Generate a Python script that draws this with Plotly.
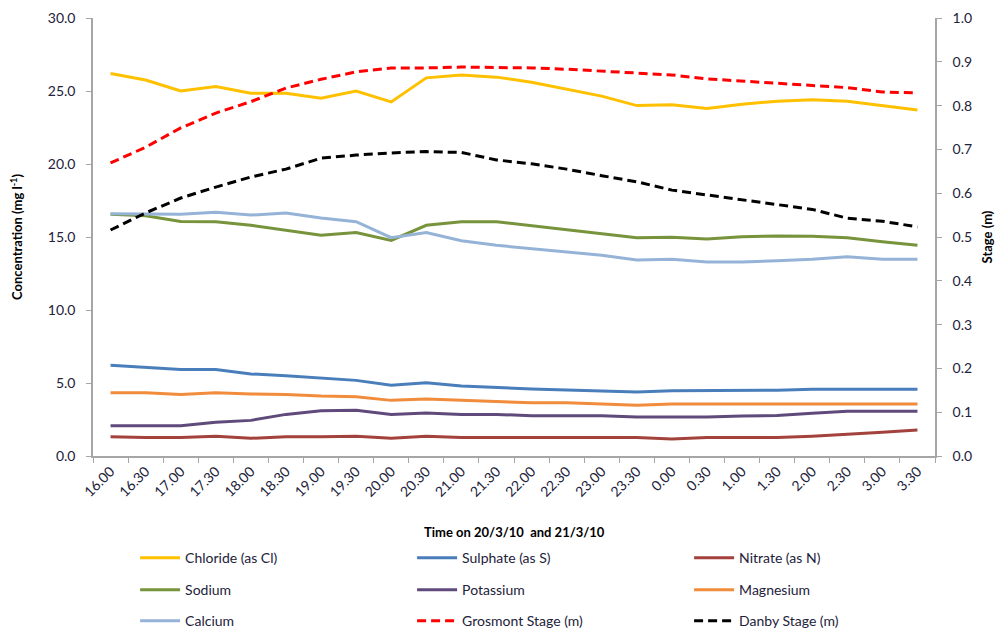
import plotly.graph_objects as go

# Sampling times (half-hourly) across 20/3/10 and 21/3/10
times = ["16.00", "16.30", "17.00", "17.30", "18.00", "18.30", "19.00", "19.30",
         "20.00", "20.30", "21.00", "21.30", "22.00", "22.30", "23.00", "23.30",
         "0.00", "0.30", "1.00", "1.30", "2.00", "2.30", "3.00", "3.30"]

# Concentrations, mg/l
chloride = [26.2, 25.75, 25.0, 25.3, 24.85, 24.85, 24.5, 25.0, 24.25, 25.9, 26.1, 25.95,
            25.6, 25.1, 24.65, 24.0, 24.05, 23.8, 24.1, 24.3, 24.4, 24.3, 24.0, 23.7]
sulphate = [6.21, 6.07, 5.93, 5.93, 5.62, 5.5, 5.32, 5.18, 4.84, 5.02, 4.79, 4.68,
            4.59, 4.52, 4.43, 4.38, 4.47, 4.47, 4.5, 4.5, 4.57, 4.57, 4.57, 4.57]
nitrate = [1.32, 1.26, 1.26, 1.35, 1.21, 1.32, 1.32, 1.35, 1.21, 1.35, 1.26, 1.26,
           1.26, 1.26, 1.26, 1.26, 1.16, 1.26, 1.26, 1.26, 1.35, 1.46, 1.62, 1.78]
sodium = [16.55, 16.46, 16.07, 16.05, 15.8, 15.48, 15.12, 15.3, 14.77, 15.8, 16.05, 16.05,
          15.78, 15.53, 15.27, 14.95, 14.98, 14.86, 15.02, 15.07, 15.05, 14.95, 14.68, 14.43]
potassium = [2.08, 2.08, 2.08, 2.31, 2.44, 2.85, 3.1, 3.13, 2.85, 2.94, 2.85, 2.85,
             2.76, 2.76, 2.76, 2.67, 2.67, 2.67, 2.74, 2.78, 2.92, 3.06, 3.06, 3.06]
magnesium = [4.34, 4.34, 4.22, 4.34, 4.25, 4.22, 4.11, 4.06, 3.81, 3.9, 3.81, 3.72,
             3.65, 3.65, 3.56, 3.47, 3.56, 3.56, 3.56, 3.56, 3.56, 3.56, 3.56, 3.56]
calcium = [16.6, 16.6, 16.55, 16.7, 16.5, 16.65, 16.3, 16.05, 14.95, 15.3, 14.75, 14.43,
           14.2, 14.0, 13.75, 13.42, 13.47, 13.29, 13.29, 13.38, 13.47, 13.65, 13.47, 13.47]

# River stage, m
grosmont = [0.669, 0.705, 0.749, 0.783, 0.809, 0.84, 0.86, 0.877, 0.886, 0.886, 0.888, 0.887,
            0.886, 0.883, 0.879, 0.874, 0.87, 0.861, 0.856, 0.851, 0.845, 0.841, 0.831, 0.829]
danby = [0.516, 0.555, 0.589, 0.614, 0.637, 0.655, 0.68, 0.687, 0.692, 0.695, 0.693, 0.676,
         0.667, 0.655, 0.64, 0.626, 0.607, 0.596, 0.586, 0.575, 0.563, 0.543, 0.536, 0.523]

FONT = "Lato, 'Open Sans', sans-serif"
TXT = "#22223a"
AXIS = "#a6a6a6"

fig = go.Figure()

series = [
    ("Chloride (as Cl)", chloride, "#FFC000", "y", "solid", "legend"),
    ("Sulphate (as S)", sulphate, "#4A7EBB", "y", "solid", "legend"),
    ("Nitrate (as N)", nitrate, "#A3423C", "y", "solid", "legend"),
    ("Sodium", sodium, "#77933C", "y", "solid", "legend2"),
    ("Potassium", potassium, "#604A7B", "y", "solid", "legend2"),
    ("Magnesium", magnesium, "#F08C3C", "y", "solid", "legend2"),
    ("Calcium", calcium, "#95B3D7", "y", "solid", "legend3"),
    ("Grosmont Stage (m)", grosmont, "#FF0000", "y2", "9px,5px", "legend3"),
    ("Danby Stage (m)", danby, "#000000", "y2", "9px,5px", "legend3"),
]
for name, vals, color, axis, dash, leg in series:
    fig.add_trace(go.Scatter(
        x=times, y=vals, name=name, mode="lines", yaxis=axis, legend=leg,
        line=dict(color=color, width=3, dash=dash),
    ))

def legend_row(y):
    return dict(
        orientation="h", x=0.05, xanchor="left", y=y, yanchor="middle",
        entrywidth=222, entrywidthmode="pixels",
        font=dict(family=FONT, size=14, color=TXT),
        bgcolor="rgba(0,0,0,0)", itemwidth=40,
    )

fig.update_layout(
    width=1008, height=631,
    margin=dict(l=93, r=73, t=18, b=175, autoexpand=False),
    paper_bgcolor="white", plot_bgcolor="white",
    font=dict(family=FONT, size=14, color=TXT),
    showlegend=True,
    legend=legend_row(-0.233),
    legend2=legend_row(-0.306),
    legend3=legend_row(-0.377),
    xaxis=dict(
        type="category", tickson="boundaries", ticks="outside", ticklen=5,
        tickcolor=AXIS, showline=True, linecolor=AXIS, linewidth=1.5,
        showgrid=False, tickangle=-45, tickfont=dict(size=14, color=TXT),
        range=[-0.5, len(times) - 0.5],
    ),
    yaxis=dict(
        range=[0, 30], dtick=5, tickformat=".1f", ticks="outside", ticklen=5,
        tickcolor=AXIS, showline=True, linecolor=AXIS, linewidth=1.5,
        showgrid=False, zeroline=False, tickfont=dict(size=14, color=TXT),
        ticklabelstandoff=8,
        title=dict(text="<b>Concentration (mg l<sup>-1</sup>)</b>",
                   font=dict(size=13, color="black"), standoff=22),
    ),
    yaxis2=dict(
        range=[0, 1], dtick=0.1, tickformat=".1f", overlaying="y", side="right",
        ticks="outside", ticklen=5, tickcolor=AXIS, showline=True,
        linecolor=AXIS, linewidth=1.5, showgrid=False, zeroline=False,
        tickfont=dict(size=14, color=TXT), ticklabelstandoff=8,
        title=dict(text="<b>Stage (m)</b>", font=dict(size=13, color="black"),
                   standoff=12),
    ),
    annotations=[dict(
        text="<b>Time on 20/3/10  and 21/3/10</b>", xref="paper", yref="paper",
        x=0.5, y=-0.174, xanchor="center", yanchor="middle", showarrow=False,
        font=dict(family=FONT, size=13, color="black"),
    )],
)

fig.write_html("out.html")
